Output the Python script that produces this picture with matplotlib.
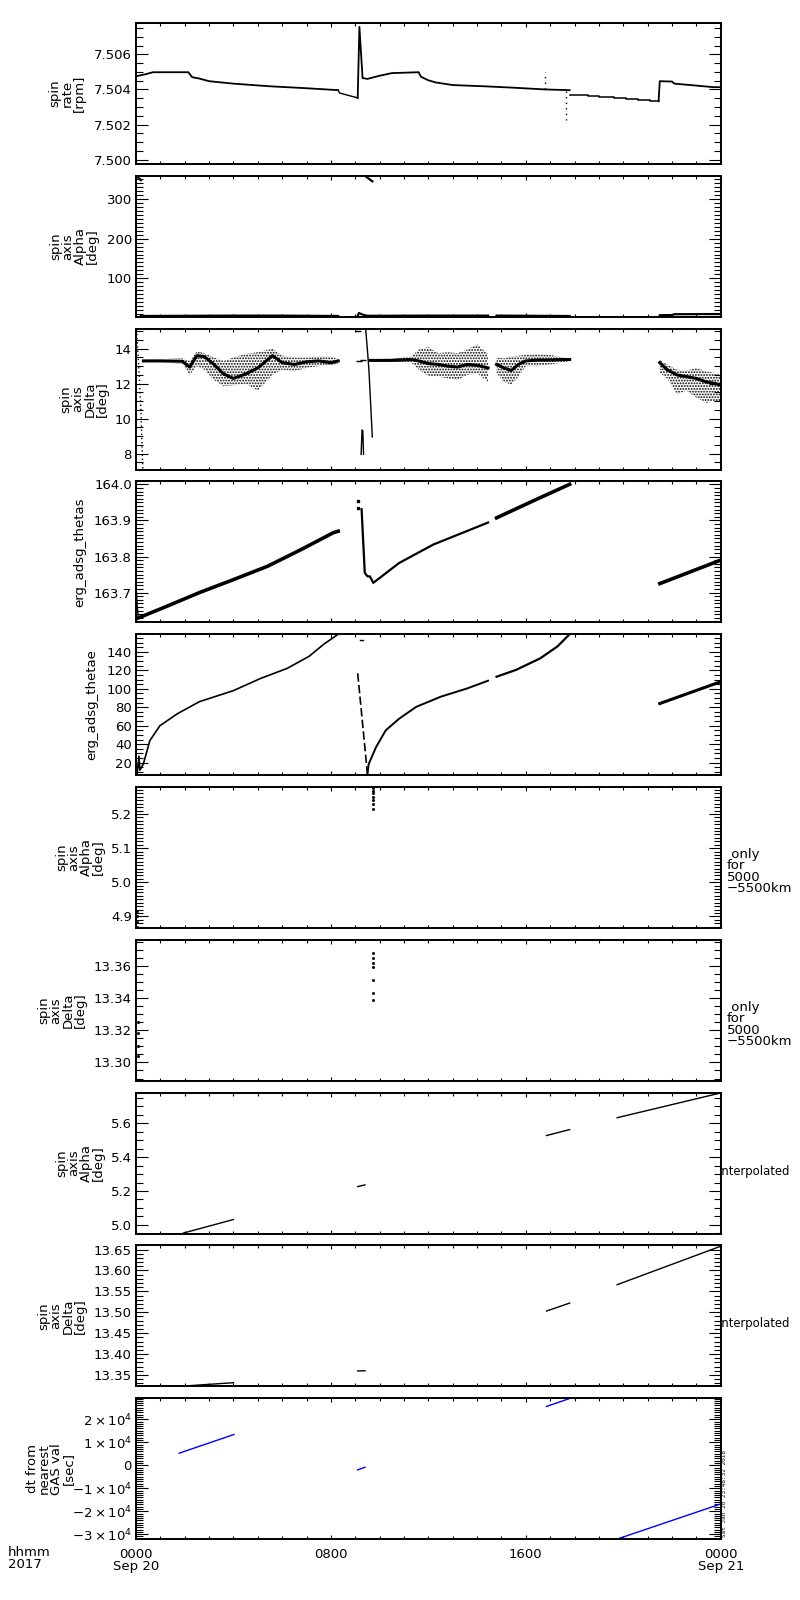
import matplotlib
matplotlib.use("Agg")
import matplotlib.pyplot as plt
from matplotlib.ticker import MultipleLocator, FormatStrFormatter, FuncFormatter, FixedLocator

plt.rcParams["font.family"] = ["DejaVu Sans"]
plt.rcParams["mathtext.default"] = "regular"
plt.rcParams["hatch.linewidth"] = 0.9
plt.rcParams["hatch.color"] = "black"

# time in hours since 2017-09-20 00:00

# panel 1: spin rate [rpm]
rate_t_a = [0.0, 0.4, 0.7, 2.15, 2.3, 2.6, 3.0, 4.0, 5.5, 7.0, 8.3]
rate_v_a = [7.50475, 7.50487, 7.50498, 7.50498, 7.50470, 7.50462, 7.50447, 7.50433, 7.50418, 7.50407, 7.50396]
rate_t_b = [8.3, 8.35, 9.1]
rate_v_b = [7.50396, 7.50380, 7.50352]
rate_t_c = [9.1, 9.17, 9.3, 9.5, 10.0, 10.5, 11.6, 11.7, 12.0, 12.3, 13.0, 14.3, 15.5, 16.8, 17.8]
rate_v_c = [7.50352, 7.50756, 7.50465, 7.50460, 7.50478, 7.50493, 7.50498, 7.50472, 7.50452, 7.50440, 7.50425, 7.50418, 7.50410, 7.50400, 7.50396]
rate_spike_t = [16.8, 16.8]
rate_spike_v = [7.50400, 7.50500]
rate_dip_t = [17.65, 17.65]
rate_dip_v = [7.50390, 7.50225]
rate_t_d = [17.8, 18.0, 18.55, 19.0, 19.6, 20.1, 20.6, 21.1, 21.45]
rate_v_d = [7.50371, 7.50366, 7.50360, 7.50355, 7.50349, 7.50344, 7.50338, 7.50333, 7.50333]
rate_t_e = [21.45, 21.5, 22.0, 22.1, 23.0, 23.7, 24.0]
rate_v_e = [7.50333, 7.50447, 7.50445, 7.50433, 7.50422, 7.50413, 7.50413]

# panel 2: spin axis alpha [deg]
alpha_t_a = [0.2, 2.0, 4.0, 6.0, 8.3]
alpha_v_a = [4.5, 5.0, 5.5, 5.5, 4.5]
alpha_wrap_t = [0.05, 0.2]
alpha_wrap_v = [357.0, 348.0]
alpha_top_t = [9.42, 9.7]
alpha_top_v = [358.0, 345.0]
alpha_t_b = [9.1, 9.15, 9.3, 9.5, 12.0, 14.45]
alpha_v_b = [5.0, 12.0, 8.0, 5.0, 5.5, 5.5]
alpha_t_c = [14.8, 17.8]
alpha_v_c = [5.5, 4.5]
alpha_t_d = [21.5, 22.0, 22.1, 24.0]
alpha_v_d = [6.5, 7.0, 9.0, 9.5]

# panel 3: spin axis delta [deg] (core trace and scatter envelope)
delta_t_a = [0.3, 1.0, 1.9, 2.2, 2.5, 2.8, 3.2, 3.6, 4.0, 4.5, 5.0, 5.6, 6.0, 6.5, 7.0, 7.5, 8.0, 8.3]
delta_core_a = [13.30, 13.30, 13.28, 12.95, 13.60, 13.55, 13.10, 12.55, 12.30, 12.55, 12.90, 13.60, 13.20, 13.10, 13.25, 13.30, 13.20, 13.30]
delta_up_a = [13.38, 13.40, 13.45, 13.30, 13.85, 13.75, 13.50, 13.30, 13.50, 13.70, 13.80, 14.00, 13.60, 13.50, 13.50, 13.55, 13.55, 13.40]
delta_lo_a = [13.22, 13.20, 13.15, 12.50, 13.00, 12.80, 12.20, 11.85, 11.90, 12.00, 11.60, 12.50, 12.80, 12.70, 12.90, 13.00, 13.05, 13.15]
delta_t_b = [9.6, 10.5, 11.3, 11.6, 12.0, 12.4, 12.8, 13.2, 13.6, 14.0, 14.45]
delta_core_b = [13.33, 13.33, 13.38, 13.30, 13.15, 13.10, 13.00, 12.95, 13.10, 13.05, 12.90]
delta_up_b = [13.40, 13.42, 13.55, 13.95, 14.10, 13.75, 13.80, 13.75, 13.95, 14.25, 13.70]
delta_lo_b = [13.25, 13.25, 13.20, 12.80, 12.45, 12.40, 12.30, 12.20, 12.50, 12.60, 12.10]
delta_t_c = [14.8, 15.1, 15.4, 15.7, 16.0, 16.5, 17.0, 17.5, 17.8]
delta_core_c = [13.10, 12.90, 12.75, 13.10, 13.30, 13.35, 13.35, 13.38, 13.38]
delta_up_c = [13.50, 13.45, 13.55, 13.60, 13.65, 13.70, 13.65, 13.50, 13.45]
delta_lo_c = [12.60, 12.10, 11.95, 12.40, 13.00, 13.00, 13.10, 13.20, 13.30]
delta_t_d = [21.5, 21.8, 22.2, 22.6, 23.0, 23.4, 23.8, 24.0]
delta_core_d = [13.20, 12.80, 12.50, 12.40, 12.30, 12.10, 12.00, 11.90]
delta_up_d = [13.35, 13.10, 12.80, 12.75, 12.90, 12.70, 12.60, 12.50]
delta_lo_d = [12.60, 12.30, 11.40, 11.60, 11.20, 10.90, 11.00, 10.95]
delta_start_t = [0.03, 0.06, 0.12, 0.2, 0.28]
delta_start_v = [14.85, 14.2, 12.8, 10.5, 7.1]
delta_fall_t = [9.43, 9.5, 9.56, 9.63, 9.7]
delta_fall_v = [15.1, 13.9, 12.8, 10.9, 8.95]
delta_hook_t = [9.24, 9.28, 9.31, 9.34]
delta_hook_v = [7.95, 9.35, 9.30, 7.95]
delta_pts_t = [9.1, 9.15, 9.32]
delta_pts_v = [15.0, 13.3, 13.35]

# panel 4: erg_adsg_thetas
thetas_t_a = [0.1, 1.26, 2.6, 4.0, 5.4, 6.8, 8.1, 8.3]
thetas_v_a = [163.630, 163.662, 163.700, 163.736, 163.773, 163.820, 163.866, 163.870]
thetas_start_t = [0.02, 0.05, 0.1]
thetas_start_v = [163.700, 163.660, 163.630]
thetas_pts_t = [9.1, 9.12]
thetas_pts_v = [163.955, 163.935]
thetas_t_b = [9.26, 9.39, 9.5, 9.6, 9.74, 10.8, 12.2, 14.45]
thetas_v_b = [163.931, 163.755, 163.745, 163.745, 163.727, 163.782, 163.833, 163.894]
thetas_t_c = [14.8, 16.3, 17.8]
thetas_v_c = [163.907, 163.954, 164.000]
thetas_t_d = [21.5, 24.0]
thetas_v_d = [163.725, 163.790]

# panel 5: erg_adsg_thetae
thetae_t_a = [0.0, 0.05, 0.12, 0.16, 0.3, 0.57, 0.98, 1.7, 2.6, 4.0, 5.1, 6.2, 7.1, 7.7, 8.3]
thetae_v_a = [20.0, 8.0, 27.0, 12.0, 18.5, 44.0, 60.0, 73.0, 86.0, 98.0, 111.0, 122.0, 135.0, 148.0, 159.0]
thetae_fall_t = [9.1, 9.5]
thetae_fall_v = [116.7, 7.6]
thetae_t_b = [9.5, 9.55, 9.85, 10.25, 10.8, 11.5, 12.5, 13.6, 14.45]
thetae_v_b = [7.6, 18.5, 36.7, 55.0, 67.6, 80.4, 91.3, 100.4, 108.7]
thetae_t_c = [14.8, 15.6, 16.6, 17.3, 17.8]
thetae_v_c = [113.0, 120.4, 133.0, 145.8, 159.0]
thetae_t_d = [21.5, 24.0]
thetae_v_d = [84.0, 107.6]
thetae_mark_t = [9.2, 9.32]
thetae_mark_v = [153.0, 153.0]

# panel 6: spin axis alpha, only for 5000-5500 km
alpha_km_t = [9.73, 9.73, 9.73, 9.73, 9.73, 9.73, 9.73, 0.05, 0.05, 0.05, 0.05]
alpha_km_v = [5.277, 5.268, 5.262, 5.250, 5.240, 5.228, 5.215, 4.870, 4.885, 4.900, 4.915]

# panel 7: spin axis delta, only for 5000-5500 km
delta_km_t = [9.72, 9.72, 9.72, 9.72, 9.72, 9.72, 9.72, 0.1, 0.1, 0.1, 0.1]
delta_km_v = [13.368, 13.365, 13.362, 13.359, 13.351, 13.343, 13.339, 13.325, 13.318, 13.310, 13.304]

# panel 8: spin axis alpha, interpolated
alpha_i_t = [[1.94, 4.0], [9.1, 9.4], [16.85, 17.8], [19.75, 24.0]]
alpha_i_v = [[4.952, 5.032], [5.226, 5.236], [5.527, 5.562], [5.632, 5.778]]

# panel 9: spin axis delta, interpolated
delta_i_t = [[1.94, 4.0], [9.1, 9.4], [16.85, 17.8], [19.75, 24.0]]
delta_i_v = [[13.3235, 13.3315], [13.3596, 13.3600], [13.503, 13.522], [13.566, 13.658]]

# panel 10: dt from nearest GAS value [sec]
dt_t = [[1.77, 4.02], [9.1, 9.4], [16.85, 17.77], [19.75, 24.0]]
dt_v = [[5233, 13372], [-2035, -872], [25580, 28920], [-32120, -16860]]

# layout in pixels
W, H = 800.0, 1600.0
LEFT, RIGHT = 136.0, 720.7
PANEL_H = 141.0
STEP = 152.8

fig = plt.figure(figsize=(8, 16), dpi=100)


def panel(i):
    top = 23.0 + STEP * i
    return fig.add_axes([LEFT / W, 1 - (top + PANEL_H) / H, (RIGHT - LEFT) / W, PANEL_H / H])


def style(ax, ylim, major, minor, fmt):
    ax.set_xlim(0, 24)
    ax.set_ylim(*ylim)
    ax.xaxis.set_major_locator(MultipleLocator(8))
    ax.xaxis.set_minor_locator(MultipleLocator(1))
    ax.yaxis.set_major_locator(MultipleLocator(major))
    ax.yaxis.set_minor_locator(MultipleLocator(minor))
    ax.yaxis.set_major_formatter(fmt)
    ax.tick_params(which="both", direction="in", top=True, right=True, width=0.8, labelsize=9.5)
    ax.tick_params(axis="y", which="major", length=8.6, pad=3)
    ax.tick_params(axis="y", which="minor", length=5)
    ax.tick_params(axis="x", which="major", length=3.2)
    ax.tick_params(axis="x", which="minor", length=2)
    ax.tick_params(axis="x", labelbottom=False)
    for s in ax.spines.values():
        s.set_linewidth(1.4)


def ylab(i, text, xc):
    yc = 1 - (23.0 + STEP * i + PANEL_H / 2) / H
    fig.text(xc / W, yc, text, rotation=90, ha="center", va="center",
             multialignment="center", linespacing=0.9, fontsize=9.5)


def rlab(i, text, dy, x=727.0, size=9.5):
    yc = 1 - (23.0 + STEP * i + PANEL_H / 2 + dy) / H
    fig.text(x / W, yc, text, ha="left", va="center", linespacing=0.85, fontsize=size)


k = "black"
axs = [panel(i) for i in range(10)]

# 1
ax = axs[0]
ax.plot(rate_t_a, rate_v_a, color=k, lw=1.3)
ax.plot(rate_t_b, rate_v_b, color=k, lw=1.0)
ax.plot(rate_t_c, rate_v_c, color=k, lw=1.3)
ax.plot(rate_spike_t, rate_spike_v, color=k, lw=1.0, ls=(0, (1, 3)))
ax.plot(rate_dip_t, rate_dip_v, color=k, lw=1.0, ls=(0, (1, 3)))
ax.plot(rate_t_d, rate_v_d, color=k, lw=1.1, drawstyle="steps-post")
ax.plot(rate_t_e, rate_v_e, color=k, lw=1.3)
style(ax, (7.49976, 7.50778), 0.002, 0.0005, FormatStrFormatter("%.3f"))
ylab(0, "spin\nrate\n[rpm]", 67)

# 2
ax = axs[1]
for t, v in [(alpha_t_a, alpha_v_a), (alpha_wrap_t, alpha_wrap_v), (alpha_top_t, alpha_top_v),
             (alpha_t_b, alpha_v_b), (alpha_t_c, alpha_v_c), (alpha_t_d, alpha_v_d)]:
    ax.plot(t, v, color=k, lw=1.6)
style(ax, (2.5, 359), 100, 10, FormatStrFormatter("%d"))
ylab(1, "spin\naxis\nAlpha\n[deg]", 74)

# 3
ax = axs[2]
for t, c, u, lo in [(delta_t_a, delta_core_a, delta_up_a, delta_lo_a),
                    (delta_t_b, delta_core_b, delta_up_b, delta_lo_b),
                    (delta_t_c, delta_core_c, delta_up_c, delta_lo_c),
                    (delta_t_d, delta_core_d, delta_up_d, delta_lo_d)]:
    ax.fill_between(t, lo, u, facecolor="none", edgecolor=k, hatch="......", lw=0)
    ax.plot(t, c, color=k, lw=2.2)
ax.plot(delta_start_t, delta_start_v, color=k, lw=1.0, ls=(0, (1, 2)))
ax.plot(delta_fall_t, delta_fall_v, color=k, lw=1.0)
ax.plot(delta_hook_t, delta_hook_v, color=k, lw=1.0)
ax.plot(delta_pts_t, delta_pts_v, ls="none", marker="_", ms=4, color=k)
style(ax, (7.08, 15.15), 2, 0.5, FormatStrFormatter("%d"))
ylab(2, "spin\naxis\nDelta\n[deg]", 84)

# 4
ax = axs[3]
ax.plot(thetas_start_t, thetas_start_v, color=k, lw=1.0)
ax.plot(thetas_t_a, thetas_v_a, color=k, lw=2.6)
ax.plot(thetas_pts_t, thetas_pts_v, ls="none", marker="s", ms=1.5, color=k)
ax.plot(thetas_t_b, thetas_v_b, color=k, lw=1.6)
ax.plot(thetas_t_c, thetas_v_c, color=k, lw=2.6)
ax.plot(thetas_t_d, thetas_v_d, color=k, lw=2.6)
style(ax, (163.6175, 164.008), 0.1, 0.01, FormatStrFormatter("%.1f"))
ylab(3, "erg_adsg_thetas", 80)

# 5
ax = axs[4]
ax.plot(thetae_t_a, thetae_v_a, color=k, lw=1.2)
ax.plot(thetae_fall_t, thetae_fall_v, color=k, lw=1.2, ls=(0, (5, 2)))
ax.plot(thetae_t_b, thetae_v_b, color=k, lw=1.4)
ax.plot(thetae_t_c, thetae_v_c, color=k, lw=1.6)
ax.plot(thetae_t_d, thetae_v_d, color=k, lw=2.2)
ax.plot(thetae_mark_t, thetae_mark_v, color=k, lw=1.0)
style(ax, (6.5, 159), 20, 5, FormatStrFormatter("%d"))
ylab(4, "erg_adsg_thetae", 92)

# 6
ax = axs[5]
ax.plot(alpha_km_t, alpha_km_v, ls="none", marker="s", ms=1.0, color=k)
style(ax, (4.866, 5.279), 0.1, 0.01, FormatStrFormatter("%.1f"))
ylab(5, "spin\naxis\nAlpha\n[deg]", 80)
rlab(5, " only\nfor\n5000\n\u22125500km", 14)

# 7
ax = axs[6]
ax.plot(delta_km_t, delta_km_v, ls="none", marker="s", ms=1.0, color=k)
style(ax, (13.2886, 13.3762), 0.02, 0.005, FormatStrFormatter("%.2f"))
ylab(6, "spin\naxis\nDelta\n[deg]", 62)
rlab(6, " only\nfor\n5000\n\u22125500km", 14)

# 8
ax = axs[7]
for t, v in zip(alpha_i_t, alpha_i_v):
    ax.plot(t, v, color=k, lw=1.0)
style(ax, (4.949, 5.78), 0.2, 0.05, FormatStrFormatter("%.1f"))
ylab(7, "spin\naxis\nAlpha\n[deg]", 80)
rlab(7, "interpolated", 8, x=719.0, size=8.4)

# 9
ax = axs[8]
for t, v in zip(delta_i_t, delta_i_v):
    ax.plot(t, v, color=k, lw=1.0)
style(ax, (13.3227, 13.66), 0.05, 0.01, FormatStrFormatter("%.2f"))
ylab(8, "spin\naxis\nDelta\n[deg]", 62)
rlab(8, "interpolated", 8, x=719.0, size=8.4)


# 10
def sci(v, pos):
    n = int(round(v / 1e4))
    if n == 0:
        return "0"
    return r"$%d\times10^{4}$" % n


ax = axs[9]
for t, v in zip(dt_t, dt_v):
    ax.plot(t, v, color="#0000ff", lw=1.0)
style(ax, (-32180, 29160), 10000, 1000, FuncFormatter(sci))
ylab(9, "dt from\nnearest\nGAS val\n[sec]", 50)
ax.xaxis.set_major_locator(FixedLocator([0, 8, 16, 24]))
ax.tick_params(axis="x", labelbottom=True, pad=6)
ax.set_xticklabels(["0000\nSep 20", "0800", "1600", "0000\nSep 21"], fontsize=9.5, linespacing=0.95)

fig.text(8 / W, 1 - 1546 / H, "hhmm\n2017", ha="left", va="top", fontsize=9.5, linespacing=0.95)
fig.text(724.5 / W, 1 - 1537 / H, "Sat Jan 20 23:46:32 2018", rotation=90, ha="center", va="bottom",
         fontsize=4.3, family="DejaVu Sans Mono")

fig.savefig("out.png", dpi=100)
